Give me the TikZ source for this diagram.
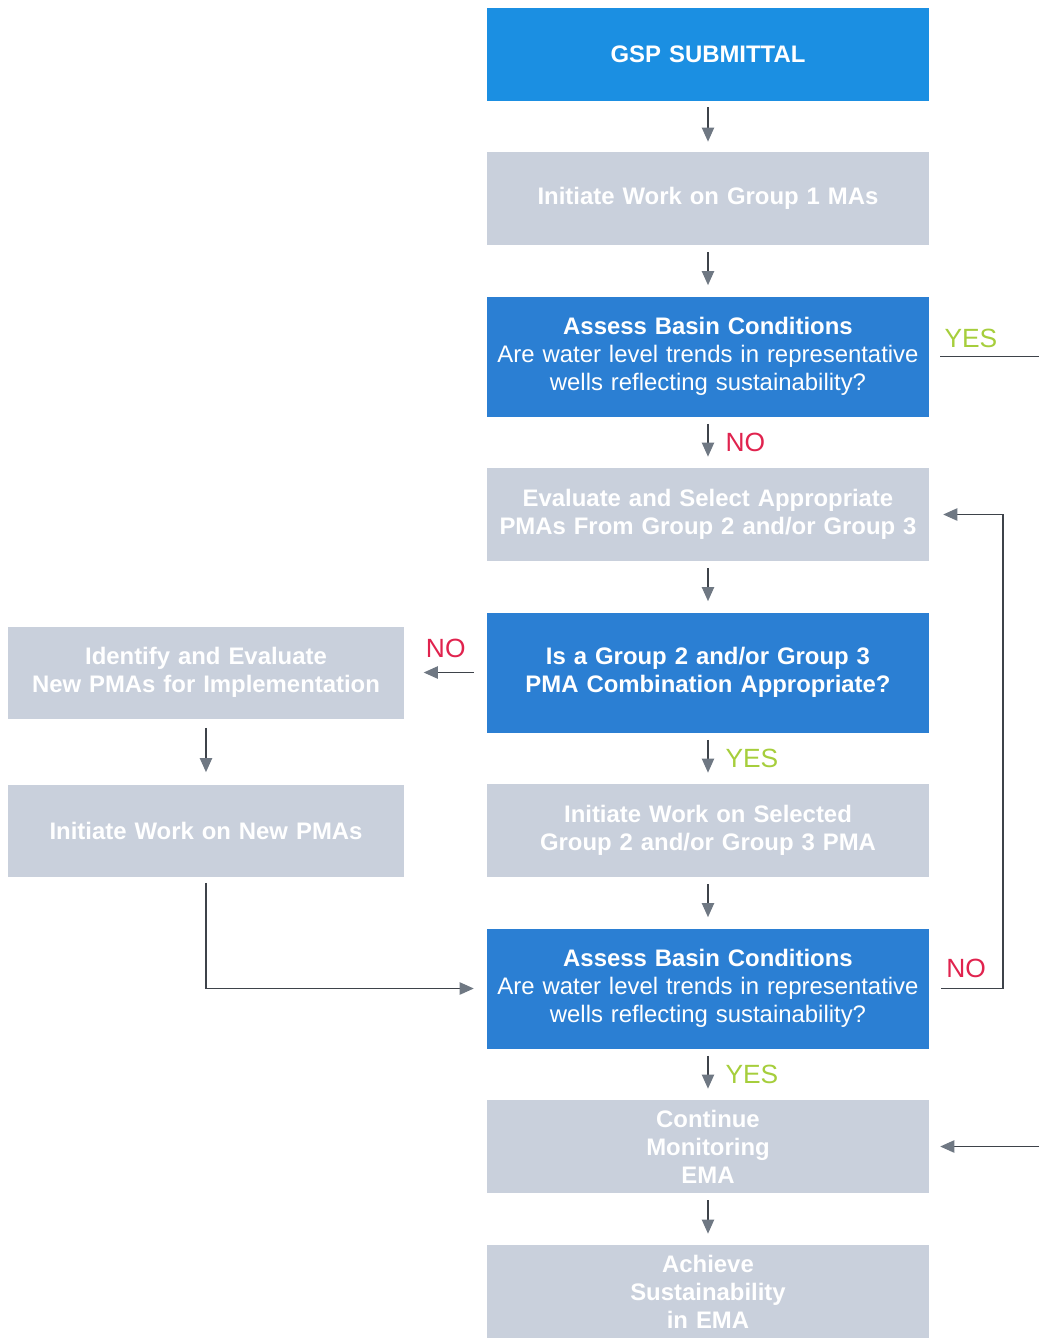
\documentclass[tikz,border=0pt]{standalone}
\usepackage{fontspec}
\setmainfont{Liberation Sans}
\usepackage{xcolor}
\usetikzlibrary{shapes.geometric, arrows.meta}

\definecolor{gspblue}{HTML}{1B8FE2}
\definecolor{askblue}{HTML}{2B7FD3}
\definecolor{stepgray}{HTML}{C9D0DC}
\definecolor{yesgreen}{HTML}{A6CE3C}
\definecolor{nored}{HTML}{E0234E}
\definecolor{linegray}{HTML}{3E434A}
\definecolor{headgray}{HTML}{6F7883}

\begin{document}
\begin{tikzpicture}[node distance=3.16cm, font=\fontsize{13.6}{16}\selectfont]
	\tikzstyle{topbox} = [rectangle, minimum width=8.8cm, minimum height=1.86cm, text centered, text width=8.6cm, fill=gspblue, text=white, font=\fontsize{13.6}{16}\selectfont\bfseries]
	
	\tikzstyle{askbox} = [rectangle, minimum width=8.8cm, minimum height=2.4cm, text centered, text width=8.6cm, fill=askblue, text=white]
	
	\tikzstyle{stepbox} = [rectangle, minimum width=8.8cm, minimum height=1.86cm, text centered, text width=8.6cm, fill=stepgray, text=white, font=\fontsize{13.6}{16}\selectfont\bfseries]
	
	\tikzstyle{sidebox} = [rectangle, minimum width=7.9cm, minimum height=1.84cm, text centered, text width=7.7cm, fill=stepgray, text=white, font=\fontsize{13.6}{16}\selectfont\bfseries]
	
	\tikzstyle{yeslabel} = [text=yesgreen, font=\fontsize{15}{18}\selectfont]
	\tikzstyle{nolabel} = [text=nored, font=\fontsize{15}{18}\selectfont]
	
	\tikzstyle{arrow} = [->, >={Triangle[length=8pt, width=7pt, color=headgray]}, draw=linegray, line width=0.75pt]
	\tikzstyle{line} = [draw=linegray, line width=0.75pt]
	
	\useasboundingbox (-14.16,1.09) rectangle (6.62,-25.67);
	
	% Main column
	\node (gsp) [topbox] {GSP SUBMITTAL};
	\node (group1) [stepbox, below of = gsp, yshift=0.28cm] {Initiate Work on Group 1 MAs};
	\node (assess1) [askbox, below of = group1] {\textbf{Assess Basin Conditions}\\ Are water level trends in representative\\ wells reflecting sustainability?};
	\node (evaluate) [stepbox, below of = assess1] {Evaluate and Select Appropriate\\ PMAs From Group 2 and/or Group 3};
	\node (isgroup) [askbox, below of = evaluate, font=\fontsize{13.6}{16}\selectfont\bfseries] {Is a Group 2 and/or Group 3\\ PMA Combination Appropriate?};
	\node (selected) [stepbox, below of = isgroup] {Initiate Work on Selected\\ Group 2 and/or Group 3 PMA};
	\node (assess2) [askbox, below of = selected] {\textbf{Assess Basin Conditions}\\ Are water level trends in representative\\ wells reflecting sustainability?};
	\node (monitor) [stepbox, below of = assess2] {Continue\\ Monitoring\\ EMA};
	\node (achieve) [stepbox, below of = monitor, yshift=0.26cm] {Achieve\\ Sustainability\\ in EMA};
	
	% Side column
	\node (identify) [sidebox, left of = isgroup, xshift=-6.88cm] {Identify and Evaluate\\ New PMAs for Implementation};
	\node (newpma) [sidebox, below of = identify] {Initiate Work on New PMAs};
	
	% Helper points
	\coordinate (rim) at (6.62,0);
	\coordinate (loopx) at (5.9,0);
	\coordinate (yesout) at (rim |- assess1.east);
	\coordinate (monin) at (rim |- monitor.east);
	
	% Arrows
	\draw [arrow, shorten <=0.12cm, shorten >=0.2cm] (gsp.south) -- (group1.north);
	\draw [arrow, shorten <=0.14cm, shorten >=0.22cm] (group1.south) -- (assess1.north);
	\draw [arrow, shorten <=0.14cm, shorten >=0.22cm] (assess1.south) -- node [nolabel, right=0.22cm] {NO} (evaluate.north);
	\draw [arrow, shorten <=0.14cm, shorten >=0.22cm] (evaluate.south) -- (isgroup.north);
	\draw [arrow, shorten <=0.14cm, shorten >=0.22cm] (isgroup.south) -- node [yeslabel, right=0.22cm] {YES} (selected.north);
	\draw [arrow, shorten <=0.14cm, shorten >=0.22cm] (selected.south) -- (assess2.north);
	\draw [arrow, shorten <=0.14cm, shorten >=0.22cm] (assess2.south) -- node [yeslabel, right=0.22cm] {YES} (monitor.north);
	\draw [arrow, shorten <=0.14cm, shorten >=0.22cm] (monitor.south) -- (achieve.north);
	
	\draw [line, shorten <=0.22cm] (assess1.east) -- node [yeslabel, above=0.04cm, pos=0.38] {YES} (yesout);
	\draw [arrow, shorten >=0.22cm] (monin) -- (monitor.east);
	
	\draw [arrow, shorten <=0.24cm, shorten >=0.28cm] (assess2.east) -- node [nolabel, above=0.08cm] {NO} (assess2.east -| loopx) |- (evaluate.east);
	
	\draw [arrow, shorten <=0.26cm, shorten >=0.38cm] (isgroup.west) -- node [nolabel, above=0.16cm] {NO} (identify.east);
	\draw [arrow, shorten <=0.18cm, shorten >=0.24cm] (identify.south) -- (newpma.north);
	\draw [arrow, shorten <=0.12cm, shorten >=0.26cm] (newpma.south) |- (assess2.west);
\end{tikzpicture}
\end{document}
